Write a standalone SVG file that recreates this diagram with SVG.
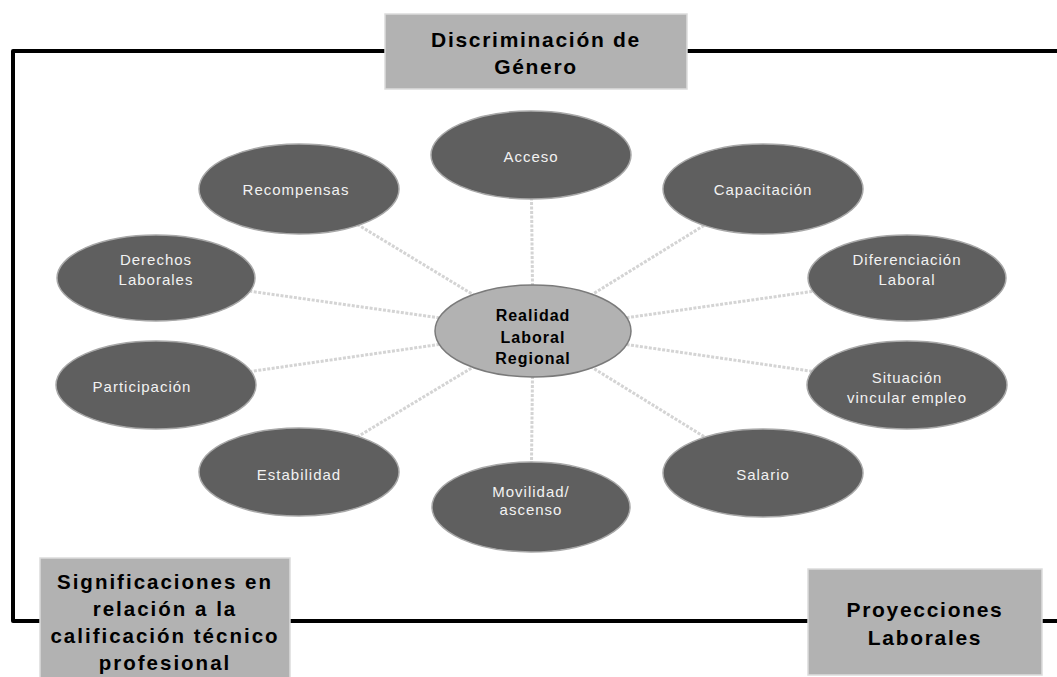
<svg xmlns="http://www.w3.org/2000/svg" width="1057" height="677" viewBox="0 0 1057 677">
<style>
.frame{fill:none;stroke:#000;stroke-width:4;stroke-linecap:round;stroke-linejoin:round}
.box{fill:#b2b2b2;stroke:#dcdcdc;stroke-width:1.5}
.btxt{font-family:"Liberation Sans",Arial,sans-serif;font-weight:bold;font-size:21px;letter-spacing:1.7px;fill:#000;text-anchor:middle}
.outer{fill:#5f5f5f;stroke:#a8a8a8;stroke-width:1.5}
.otxt{font-family:"Liberation Sans",Arial,sans-serif;font-size:15px;letter-spacing:1px;fill:#f2f2f2;text-anchor:middle}
.center{fill:#b2b2b2;stroke:#7a7a7a;stroke-width:1.5}
.ctxt{font-family:"Liberation Sans",Arial,sans-serif;font-weight:bold;font-size:16px;letter-spacing:1px;fill:#000;text-anchor:middle}
.conn{stroke:#d4d4d4;stroke-width:3;stroke-dasharray:3 1.5;fill:none}
</style>
<rect width="1057" height="677" fill="#fff"/>
<g id="frame">
<polyline class="frame" points="385,51 13,51 13,621 40,621"/>
<line class="frame" x1="687" y1="51" x2="1057" y2="51"/>
<line class="frame" x1="290" y1="621" x2="808" y2="621"/>
<line class="frame" x1="1042" y1="621" x2="1057" y2="621"/>
</g>
<g id="connectors">
<line class="conn" x1="533" y1="331" x2="531" y2="155"/>
<line class="conn" x1="533" y1="331" x2="299" y2="189"/>
<line class="conn" x1="533" y1="331" x2="763" y2="189"/>
<line class="conn" x1="533" y1="331" x2="156" y2="278"/>
<line class="conn" x1="533" y1="331" x2="907" y2="278"/>
<line class="conn" x1="533" y1="331" x2="156" y2="385"/>
<line class="conn" x1="533" y1="331" x2="907" y2="385"/>
<line class="conn" x1="533" y1="331" x2="299" y2="472"/>
<line class="conn" x1="533" y1="331" x2="763" y2="473"/>
<line class="conn" x1="533" y1="331" x2="531" y2="507"/>
</g>
<g id="discriminacion">
<rect class="box" x="385" y="14" width="302" height="75"/>
<text class="btxt" x="536" y="47">Discriminación de</text>
<text class="btxt" x="536" y="74">Género</text>
</g>
<g id="significaciones">
<rect class="box" x="40" y="558" width="250" height="125"/>
<text class="btxt" x="165" y="589" style="font-size:20.5px;letter-spacing:2px">Significaciones en</text>
<text class="btxt" x="165" y="616" style="font-size:20.5px;letter-spacing:2px">relación a la</text>
<text class="btxt" x="165" y="643" style="font-size:20.5px;letter-spacing:2px">calificación técnico</text>
<text class="btxt" x="165" y="670" style="font-size:20.5px;letter-spacing:2px">profesional</text>
</g>
<g id="proyecciones">
<rect class="box" x="808" y="569" width="234" height="106"/>
<text class="btxt" x="925" y="617">Proyecciones</text>
<text class="btxt" x="925" y="645">Laborales</text>
</g>
<g id="acceso">
<ellipse class="outer" cx="531" cy="155" rx="100" ry="44"/>
<text class="otxt" x="531" y="162">Acceso</text>
</g>
<g id="recompensas">
<ellipse class="outer" cx="299" cy="189" rx="100" ry="45"/>
<text class="otxt" x="296" y="195">Recompensas</text>
</g>
<g id="capacitacion">
<ellipse class="outer" cx="763" cy="189" rx="100" ry="45"/>
<text class="otxt" x="763" y="195">Capacitación</text>
</g>
<g id="derechos">
<ellipse class="outer" cx="156" cy="278" rx="99" ry="43"/>
<text class="otxt" x="156" y="265">Derechos</text>
<text class="otxt" x="156" y="285">Laborales</text>
</g>
<g id="diferenciacion">
<ellipse class="outer" cx="907" cy="278" rx="99" ry="43"/>
<text class="otxt" x="907" y="265">Diferenciación</text>
<text class="otxt" x="907" y="285">Laboral</text>
</g>
<g id="participacion">
<ellipse class="outer" cx="156" cy="385" rx="100" ry="44"/>
<text class="otxt" x="142" y="392">Participación</text>
</g>
<g id="situacion">
<ellipse class="outer" cx="907" cy="385" rx="100" ry="44"/>
<text class="otxt" x="907" y="383">Situación</text>
<text class="otxt" x="907" y="403">vincular empleo</text>
</g>
<g id="estabilidad">
<ellipse class="outer" cx="299" cy="472" rx="100" ry="44"/>
<text class="otxt" x="299" y="480">Estabilidad</text>
</g>
<g id="salario">
<ellipse class="outer" cx="763" cy="473" rx="100" ry="44"/>
<text class="otxt" x="763" y="480">Salario</text>
</g>
<g id="movilidad">
<ellipse class="outer" cx="531" cy="507" rx="99" ry="45"/>
<text class="otxt" x="531" y="497">Movilidad/</text>
<text class="otxt" x="531" y="515">ascenso</text>
</g>
<g id="realidad">
<ellipse class="center" cx="533" cy="331" rx="98" ry="46"/>
<text class="ctxt" x="533" y="321">Realidad</text>
<text class="ctxt" x="533" y="343">Laboral</text>
<text class="ctxt" x="533" y="364">Regional</text>
</g>
</svg>
